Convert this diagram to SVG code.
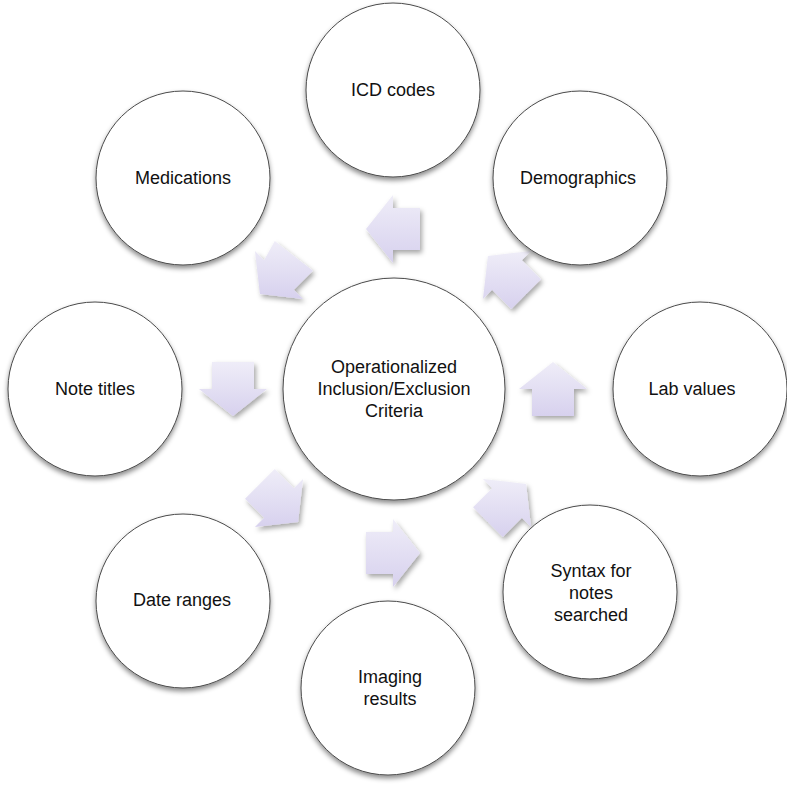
<svg xmlns="http://www.w3.org/2000/svg" width="787" height="788" viewBox="0 0 787 788">
<defs>
<linearGradient id="ag" x1="0" y1="0" x2="0" y2="1">
<stop offset="0" stop-color="#EFEDF8"/>
<stop offset="1" stop-color="#D7D1EE"/>
</linearGradient>
<filter id="cs" x="-20%" y="-20%" width="140%" height="150%">
<feDropShadow dx="0" dy="3" stdDeviation="2.5" flood-color="#000" flood-opacity="0.45"/>
</filter>
<filter id="as" x="-30%" y="-30%" width="160%" height="160%">
<feDropShadow dx="2" dy="3" stdDeviation="2.5" flood-color="#000" flood-opacity="0.35"/>
</filter>
</defs>
<style>
.c{fill:#fff;stroke:#4a4a4a;stroke-width:1;filter:url(#cs)}
.a{fill:url(#ag);filter:url(#as)}
text{font-family:"Liberation Sans",Arial,sans-serif;font-size:18px;fill:#111;text-anchor:middle}
</style>
<rect width="787" height="788" fill="#fff"/>
<g id="connectors">
<polygon class="a" transform="translate(393,229)" points="27,-21 0,-21 0,-34 -27,0 0,34 0,21 27,21"/>
<polygon class="a" transform="translate(279,275)" points="33.94,-4.24 14.85,14.85 24.04,24.04 -19.09,19.09 -24.04,-24.04 -14.85,-14.85 -4.24,-33.94"/>
<polygon class="a" transform="translate(233,389)" points="-21,-27 -21,0 -34,0 0,27 34,0 21,0 21,-27"/>
<polygon class="a" transform="translate(279,503)" points="-4.24,-33.94 14.85,-14.85 24.04,-24.04 19.09,19.09 -24.04,24.04 -14.85,14.85 -33.94,-4.24"/>
<polygon class="a" transform="translate(393,553)" points="-27,-21 0,-21 0,-34 27,0 0,34 0,21 -27,21"/>
<polygon class="a" transform="translate(507,503)" points="-33.94,4.24 -14.85,-14.85 -24.04,-24.04 19.09,-19.09 24.04,24.04 14.85,14.85 -4.24,33.94"/>
<polygon class="a" transform="translate(553,389)" points="-21,27 -21,0 -34,0 0,-27 34,0 21,0 21,27"/>
<polygon class="a" transform="translate(507,275)" points="4.24,33.94 -14.85,14.85 -24.04,24.04 -19.09,-19.09 24.04,-24.04 14.85,-14.85 33.94,4.24"/>
</g>
<g id="center">
<circle class="c" cx="394" cy="389" r="111"/>
<text x="394" y="373">Operationalized</text>
<text x="394" y="395">Inclusion/Exclusion</text>
<text x="394" y="417">Criteria</text>
</g>
<g id="icd"><circle class="c" cx="393" cy="90" r="87"/><text x="393" y="96">ICD codes</text></g>
<g id="demographics"><circle class="c" cx="580" cy="178" r="87"/><text x="578" y="184">Demographics</text></g>
<g id="lab"><circle class="c" cx="700" cy="389" r="87"/><text x="692" y="395">Lab values</text></g>
<g id="syntax"><circle class="c" cx="590" cy="592" r="87"/><text x="591" y="577">Syntax for</text><text x="591" y="599">notes</text><text x="591" y="621">searched</text></g>
<g id="imaging"><circle class="c" cx="388" cy="688" r="87"/><text x="390" y="683">Imaging</text><text x="390" y="705">results</text></g>
<g id="dates"><circle class="c" cx="183" cy="601" r="87"/><text x="182" y="606">Date ranges</text></g>
<g id="notes"><circle class="c" cx="95" cy="389" r="87"/><text x="95" y="395">Note titles</text></g>
<g id="medications"><circle class="c" cx="183" cy="178" r="87"/><text x="183" y="184">Medications</text></g>
</svg>
